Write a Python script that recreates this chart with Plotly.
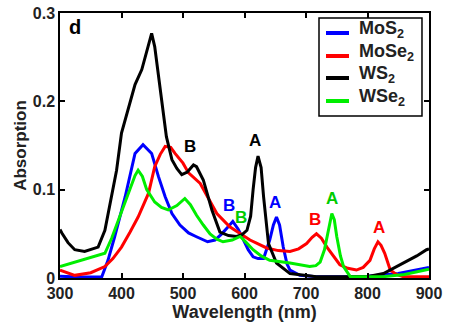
import plotly.graph_objects as go

# Wavelength (nm) / absorption
mos2_x = [300, 330, 368, 378, 389, 406, 422, 435, 449, 460, 471, 482, 495, 509, 521, 533, 540, 552, 563, 572, 581, 590, 598, 606, 614, 622, 631, 641, 647, 652, 657, 663, 669, 674, 690, 717, 760, 800, 850, 896, 900]
mos2_y = [0.002, 0.001, 0.0015, 0.02, 0.047, 0.092, 0.141, 0.151, 0.141, 0.115, 0.092, 0.073, 0.06, 0.051, 0.047, 0.043, 0.041, 0.043, 0.05, 0.057, 0.064, 0.055, 0.043, 0.032, 0.024, 0.022, 0.022, 0.043, 0.06, 0.069, 0.06, 0.035, 0.016, 0.009, 0.003, 0.0015, 0.0015, 0.002, 0.005, 0.011, 0.012]

mose2_x = [300, 324, 350, 373, 386, 400, 414, 427, 444, 454, 463, 471, 480, 487, 500, 509, 528, 555, 576, 609, 636, 655, 674, 688, 701, 710, 717, 725, 734, 745, 755, 768, 782, 793, 804, 811, 817, 822, 828, 837, 847, 858, 880, 900]
mose2_y = [0.009, 0.003, 0.006, 0.013, 0.022, 0.035, 0.052, 0.069, 0.096, 0.126, 0.14, 0.149, 0.148, 0.141, 0.13, 0.119, 0.107, 0.073, 0.058, 0.043, 0.034, 0.031, 0.03, 0.033, 0.039, 0.046, 0.05, 0.045, 0.035, 0.024, 0.015, 0.011, 0.009, 0.012, 0.02, 0.033, 0.041, 0.037, 0.028, 0.009, 0.004, 0.0015, 0.0015, 0.0015]

ws2_x = [300, 303, 313, 324, 340, 362, 373, 381, 392, 400, 411, 422, 433, 441, 449, 454, 460, 465, 473, 482, 490, 498, 507, 517, 522, 533, 547, 560, 574, 587, 596, 604, 610, 614, 618, 622, 627, 631, 639, 652, 674, 717, 760, 799, 826, 858, 880, 896, 900]
ws2_y = [0.055, 0.051, 0.04, 0.032, 0.03, 0.035, 0.054, 0.081, 0.122, 0.164, 0.19, 0.219, 0.236, 0.258, 0.277, 0.262, 0.23, 0.198, 0.16, 0.134, 0.124, 0.117, 0.12, 0.128, 0.126, 0.111, 0.077, 0.052, 0.048, 0.047, 0.049, 0.054, 0.07, 0.1, 0.125, 0.138, 0.125, 0.092, 0.039, 0.017, 0.005, 0.0015, 0.0015, 0.0015, 0.005, 0.017, 0.025, 0.032, 0.033]

wse2_x = [300, 346, 373, 384, 395, 405, 414, 422, 427, 434, 441, 454, 465, 476, 490, 503, 512, 522, 533, 544, 555, 565, 580, 593, 603, 614, 627, 641, 674, 706, 716, 723, 730, 734, 739, 742, 746, 750, 756, 761, 772, 800, 826, 860, 896, 900]
wse2_y = [0.013, 0.022, 0.028, 0.045, 0.066, 0.085, 0.103, 0.116, 0.122, 0.115, 0.1, 0.086, 0.08, 0.077, 0.082, 0.09, 0.083, 0.071, 0.06, 0.05, 0.044, 0.041, 0.043, 0.047, 0.04, 0.032, 0.025, 0.02, 0.017, 0.013, 0.014, 0.018, 0.032, 0.047, 0.066, 0.073, 0.066, 0.047, 0.025, 0.013, 0.0015, 0.0015, 0.0015, 0.004, 0.009, 0.01]

series_names = ["MoS<sub>2</sub>", "MoSe<sub>2</sub>", "WS<sub>2</sub>", "WSe<sub>2</sub>"]
series_x = [mos2_x, mose2_x, ws2_x, wse2_x]
series_y = [mos2_y, mose2_y, ws2_y, wse2_y]
series_colors = ["#0000ff", "#ff0000", "#000000", "#00ee00"]

# Peak labels: (text, x, y, colour)
peak_labels = [
    ("B", 511, 0.149, "#000000"),
    ("A", 617, 0.156, "#000000"),
    ("B", 575, 0.082, "#0000ff"),
    ("B", 594, 0.068, "#00cc00"),
    ("A", 650, 0.085, "#0000ff"),
    ("B", 715, 0.066, "#ff0000"),
    ("A", 742, 0.09, "#00cc00"),
    ("A", 818, 0.057, "#ff0000"),
]

x_ticks = [300, 400, 500, 600, 700, 800, 900]
y_ticks = [0, 0.1, 0.2, 0.3]
y_ticktext = ["0", "0.1", "0.2", "0.3"]

FONT = "Liberation Sans"

fig = go.Figure()
for name, xs, ys, col in zip(series_names, series_x, series_y, series_colors):
    fig.add_trace(go.Scatter(x=xs, y=ys, mode="lines", name=name, showlegend=False,
                             line=dict(color=col, width=3)))

for t, x, y, c in peak_labels:
    fig.add_annotation(x=x, y=y, text="<b>%s</b>" % t, showarrow=False,
                       font=dict(color=c, size=17, family=FONT))

fig.add_annotation(x=0.02, y=0.995, xref="paper", yref="paper", xanchor="left", yanchor="top",
                   text="<b>d</b>", showarrow=False, font=dict(size=20, color="black", family=FONT))

# Boxed legend drawn in paper coordinates
leg_x0, leg_x1, leg_y0, leg_y1 = 0.7019, 0.981, 0.6113, 0.981
leg_rows = [0.9245, 0.8377, 0.7547, 0.6679]
fig.add_shape(type="rect", xref="paper", yref="paper", x0=leg_x0, x1=leg_x1, y0=leg_y0, y1=leg_y1,
              line=dict(color="black", width=1.5), fillcolor="white", layer="above")
for name, col, ry in zip(series_names, series_colors, leg_rows):
    fig.add_shape(type="line", xref="paper", yref="paper", x0=0.7209, x1=0.7832, y0=ry, y1=ry,
                  line=dict(color=col, width=4), layer="above")
    fig.add_annotation(x=0.8049, y=ry + 0.012, xref="paper", yref="paper", xanchor="left", yanchor="middle",
                       text="<b>%s</b>" % name, showarrow=False,
                       font=dict(size=18, color="#222", family=FONT))

axis_common = dict(showline=True, linecolor="black", linewidth=1.5, mirror="ticks",
                   ticks="inside", ticklen=5, tickwidth=1.5, tickcolor="black",
                   showgrid=False, zeroline=False, automargin=False,
                   tickfont=dict(size=16, color="#222", family=FONT, weight="bold"))

fig.update_layout(
    width=450, height=325,
    margin=dict(l=60, r=21, t=13, b=47),
    paper_bgcolor="white", plot_bgcolor="white",
    font=dict(family=FONT, color="#222"),
    showlegend=False,
    xaxis=dict(range=[300, 900], tickvals=x_ticks,
               title=dict(text="<b>Wavelength (nm)</b>", font=dict(size=18), standoff=0),
               **axis_common),
    yaxis=dict(range=[0, 0.3], tickvals=y_ticks, ticktext=y_ticktext,
               title=dict(text="<b>Absorption</b>", font=dict(size=17), standoff=2),
               **axis_common),
)

fig.write_html("out.html")
